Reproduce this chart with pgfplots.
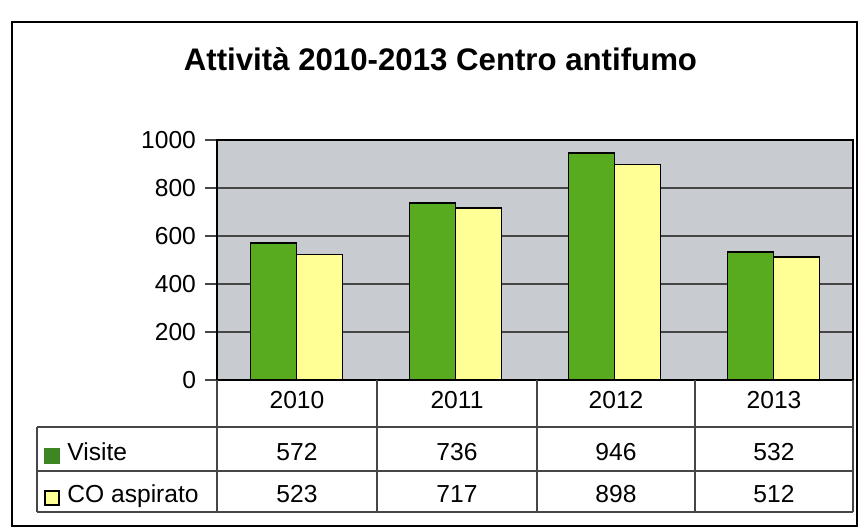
\documentclass[border=0pt]{standalone}
\usepackage{pgfplots}
\pgfplotsset{compat=1.18}
\usepackage{fontspec}
\setmainfont{Liberation Sans}
\definecolor{bargreen}{RGB}{88,170,30}
\definecolor{keygreen}{RGB}{60,135,35}
\definecolor{baryellow}{RGB}{255,255,150}
\definecolor{bggray}{RGB}{200,203,208}
\definecolor{gridgray}{RGB}{70,70,70}
\begin{document}
\begin{tikzpicture}
\useasboundingbox (0,0) rectangle (430pt,264pt);
\begin{axis}[
  at={(108.5pt,74pt)}, anchor=south west,
  scale only axis, width=318pt, height=120pt,
  ybar=0pt, bar width=23pt,
  xmin=-0.5, xmax=3.5, ymin=0, ymax=1000,
  xtick=\empty,
  ytick={0,200,400,600,800,1000},
  ytick pos=left,
  ymajorgrids, grid style={gridgray, line width=0.6pt},
  axis background/.style={fill=bggray},
  axis line style={black, line width=0.8pt},
  tick align=outside, major tick length=6pt,
  ytick style={gridgray, line width=0.6pt},
  yticklabel style={font=\fontsize{12.3}{14}\selectfont, xshift=-1pt},
  /pgf/number format/assume math mode=true,
  /pgf/number format/1000 sep={},
  clip=false,
]
\addplot[fill=bargreen, draw=black, line width=0.9pt] coordinates {(0,572) (1,736) (2,946) (3,532)};
\addplot[fill=baryellow, draw=black, line width=0.9pt] coordinates {(0,523) (1,717) (2,898) (3,512)};
\end{axis}
\begin{scope}[x=0.5pt,y=0.5pt]
  % outer frame
  \draw[black, line width=1pt] (12,2) rectangle (857,506);
  % title
  \node[anchor=base, font=\bfseries\fontsize{15.6}{18}\selectfont] at (440.5,457) {Attività 2010-2013 Centro antifumo};
  % table lines
  \begin{scope}[draw=gridgray, line width=0.6pt]
    \foreach \xx in {217,377,537,695,853} {\draw (\xx,148) -- (\xx,16);}
    \draw (37,101) -- (37,16);
    \draw (37,101) -- (853,101);
    \draw (37,57) -- (853,57);
    \draw (37,16) -- (853,16);
  \end{scope}
  \begin{scope}[font=\fontsize{12.3}{14}\selectfont]
    \node[anchor=base] at (297,119) {2010};
    \node[anchor=base] at (457,119) {2011};
    \node[anchor=base] at (616,119) {2012};
    \node[anchor=base] at (774,119) {2013};
    \node[anchor=base] at (297,67) {572};
    \node[anchor=base] at (457,67) {736};
    \node[anchor=base] at (616,67) {946};
    \node[anchor=base] at (774,67) {532};
    \node[anchor=base] at (297,25) {523};
    \node[anchor=base] at (457,25) {717};
    \node[anchor=base] at (616,25) {898};
    \node[anchor=base] at (774,25) {512};
    \fill[keygreen] (44,64) rectangle (60,80);
    \node[anchor=base west, inner sep=0pt] at (67,67) {Visite};
    \draw[black, fill=baryellow, line width=0.6pt] (45,23) rectangle (59,37);
    \node[anchor=base west, inner sep=0pt] at (67,25) {CO aspirato};
  \end{scope}
\end{scope}
\end{tikzpicture}
\end{document}
